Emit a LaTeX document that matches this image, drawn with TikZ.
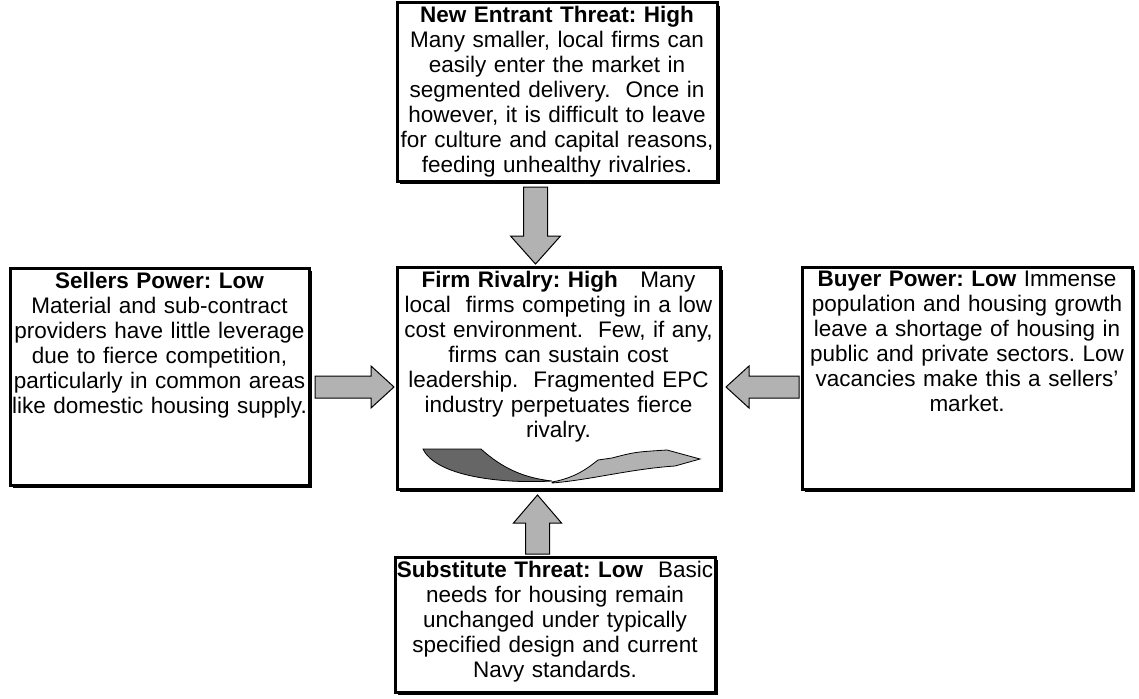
\documentclass[tikz,border=0pt]{standalone}
\usepackage{fontspec}
\setmainfont{Liberation Sans}
\usepackage{tikz}
\usetikzlibrary{shadows, calc, positioning}
\frenchspacing

\begin{document}
\begin{tikzpicture}[x=1pt, y=-1pt,
		forcebox/.style={rectangle, draw=black, line width=3pt, fill=white,
			drop shadow={shadow xshift=3pt, shadow yshift=-3pt, fill=black, opacity=1}},
		forcetext/.style={align=center, inner sep=0pt, anchor=north, text width=360pt,
			font=\fontsize{22.5}{25}\selectfont},
		blockarrow/.style={draw=black, line width=1pt, fill=black!30},
		swirldark/.style={draw=black, line width=0.8pt, fill=black!60},
		swirllight/.style={draw=black, line width=0.8pt, fill=black!30}
		]
		\useasboundingbox (0,0) rectangle (1139,698);
		
		% the five boxes
		\node[forcebox, minimum width=320pt, minimum height=178pt] (entrant) at (557,92) {};
		\node[forcebox, minimum width=323pt, minimum height=222pt] (rivalry) at (558.5,378) {};
		\node[forcebox, minimum width=299pt, minimum height=217pt] (sellers) at (159.5,376.5) {};
		\node[forcebox, minimum width=330pt, minimum height=222pt] (buyer) at (967,378) {};
		\node[forcebox, minimum width=320pt, minimum height=135pt] (substitute) at (555,624.5) {};
		
		% texts
		\node[forcetext] (entrantText) at ($(entrant.north)+(0,4)$)
		{\textbf{New Entrant Threat: High}\\ Many smaller, local firms can\\
			easily enter the market in\\ segmented delivery.\ \ Once in\\
			however, it is difficult to leave\\ for culture and capital reasons,\\
			feeding unhealthy rivalries.} ;
		\node[forcetext] (rivalryText) at ($(rivalry.north)+(0,5)$)
		{\textbf{Firm Rivalry: High}\ \ \ Many\\ local\ \ firms competing in a low\\
			cost environment.\ \ Few, if any,\\ firms can sustain cost\\
			leadership.\ \ Fragmented EPC\\ industry perpetuates fierce\\ rivalry.} ;
		\node[forcetext] (sellersText) at ($(sellers.north)+(0,5)$)
		{\textbf{Sellers Power: Low}\\ Material and sub-contract\\
			providers have little leverage\\ due to fierce competition,\\
			particularly in common areas\\ like domestic housing supply.} ;
		\node[forcetext] (buyerText) at ($(buyer.north)+(0,5)$)
		{\textbf{Buyer Power: Low} Immense\\ population and housing growth\\
			leave a shortage of housing in\\ public and private sectors. Low\\
			vacancies make this a sellers’\\ market.} ;
		\node[forcetext] (substituteText) at ($(substitute.north)+(0,5)$)
		{\textbf{Substitute Threat: Low}\ \ Basic\\ needs for housing remain\\
			unchanged under typically\\ specified design and current\\ Navy standards.} ;
		
		% arrow ends
		\coordinate (downTip) at ($(rivalry.north)+(-23,-1.5)$);
		\coordinate (downTail) at ($(downTip |- entrant.south)+(0,4.5)$);
		\coordinate (upTip) at ($(rivalry.south)+(-21,4.5)$);
		\coordinate (upTail) at ($(upTip |- substitute.north)+(0,-1.5)$);
		\coordinate (leftTip) at ($(rivalry.west)+(-1.5,9)$);
		\coordinate (leftTail) at ($(sellers.east |- leftTip)+(4.5,0)$);
		\coordinate (rightTip) at ($(rivalry.east)+(4.5,9)$);
		\coordinate (rightTail) at ($(buyer.west |- rightTip)+(-1.5,0)$);
		
		% block arrows
		\draw[blockarrow] ($(downTail)+(-12,0)$) -- ($(downTip)+(-12,-28)$) -- ++(-13,0)
		-- (downTip) -- ++(25,-28) -- ++(-13,0) -- ($(downTail)+(12,0)$) -- cycle;
		\draw[blockarrow] ($(upTail)+(-12,0)$) -- ($(upTip)+(-12,28)$) -- ++(-12,0)
		-- (upTip) -- ++(24,28) -- ++(-12,0) -- ($(upTail)+(12,0)$) -- cycle;
		\draw[blockarrow] ($(leftTail)+(0,-11)$) -- ($(leftTip)+(-23,-11)$) -- ++(0,-10)
		-- (leftTip) -- ++(-23,21) -- ++(0,-10) -- ($(leftTail)+(0,11)$) -- cycle;
		\draw[blockarrow] ($(rightTail)+(0,-11)$) -- ($(rightTip)+(23,-11)$) -- ++(0,-10)
		-- (rightTip) -- ++(23,21) -- ++(0,-10) -- ($(rightTail)+(0,11)$) -- cycle;
		
		% curved rivalry arrow
		\draw[swirldark] (423,449) -- (481,449) .. controls (503,469) and (525,478) .. (552,481)
		.. controls (500,484) and (436,476) .. (423,449) -- cycle;
		\draw[swirllight] (552,482) .. controls (575,478) and (588,468) .. (598,460)
		-- (612,458) .. controls (635,452) .. (667,450) -- (700,459) -- (675,466)
		.. controls (630,469) and (590,480) .. (552,483) -- cycle;
	\end{tikzpicture}
\end{document}
